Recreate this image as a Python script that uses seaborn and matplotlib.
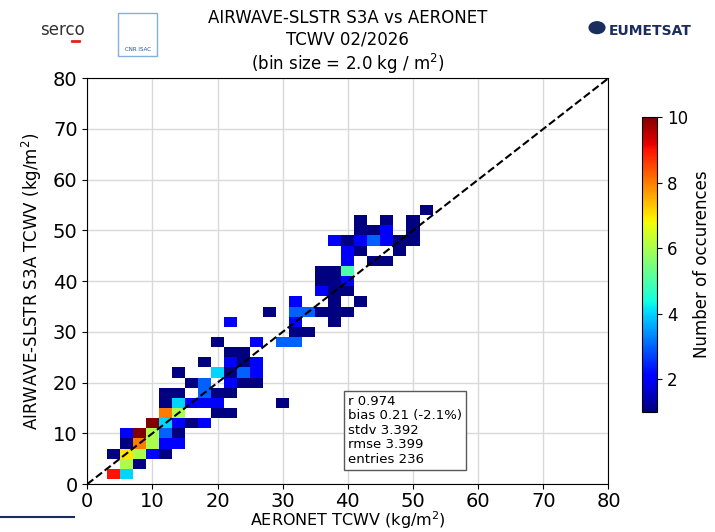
import numpy as np
import pandas as pd
import seaborn as sns
import matplotlib
import matplotlib.pyplot as plt
from matplotlib.lines import Line2D
from matplotlib.patches import Rectangle, Circle

# centres of the 2 kg/m2 bins (AERONET, AIRWAVE) and number of entries per bin
bin_x = [4, 6,
         6, 8,
         4, 6, 8, 10, 12,
         6, 8, 10, 12, 14,
         6, 8, 10, 12, 14,
         10, 12, 14, 16, 18,
         12, 14, 20, 22,
         12, 14, 16, 18, 20, 30,
         12, 14, 18, 20, 22,
         16, 18, 22, 24, 26,
         14, 20, 22, 24, 26,
         18, 22, 24, 26,
         22, 24,
         20, 26, 30, 32,
         32, 34,
         22, 32, 38,
         28, 32, 34, 36, 38, 40,
         32, 38, 42,
         36, 38, 40,
         36, 38, 40,
         36, 38, 40,
         40, 44, 46,
         40, 42, 48,
         38, 40, 42, 44, 46, 48, 50,
         42, 44, 46, 50,
         42, 46, 50,
         52]
bin_y = [2, 2,
         4, 4,
         6, 6, 6, 6, 6,
         8, 8, 8, 8, 8,
         10, 10, 10, 10, 10,
         12, 12, 12, 12, 12,
         14, 14, 14, 14,
         16, 16, 16, 16, 16, 16,
         18, 18, 18, 18, 18,
         20, 20, 20, 20, 20,
         22, 22, 22, 22, 22,
         24, 24, 24, 24,
         26, 26,
         28, 28, 28, 28,
         30, 30,
         32, 32, 32,
         34, 34, 34, 34, 34, 34,
         36, 36, 36,
         38, 38, 38,
         40, 40, 40,
         42, 42, 42,
         44, 44, 44,
         46, 46, 46,
         48, 48, 48, 48, 48, 48, 48,
         50, 50, 50, 50,
         52, 52, 52,
         54]
bin_count = [9, 4,
             6, 1,
             1, 7, 6, 2, 1,
             1, 8, 6, 2, 2,
             2, 10, 6, 3, 1,
             10, 4, 2, 1, 2,
             8, 6, 1, 1,
             1, 4, 2, 2, 2, 1,
             1, 1, 3, 1, 1,
             1, 3, 2, 1, 1,
             1, 4, 1, 3, 2,
             1, 2, 1, 2,
             1, 1,
             1, 2, 3, 3,
             1, 1,
             2, 2, 1,
             1, 3, 3, 1, 1, 1,
             2, 1, 1,
             2, 1, 1,
             1, 1, 2,
             1, 1, 5,
             2, 1, 1,
             2, 1, 1,
             2, 1, 2, 3, 2, 1, 1,
             1, 1, 2, 1,
             1, 1, 1,
             1]

stats_text = "r 0.974\nbias 0.21 (-2.1%)\nstdv 3.392\nrmse 3.399\nentries 236"

obs = pd.DataFrame({
    "aeronet": np.repeat(bin_x, bin_count),
    "airwave": np.repeat(bin_y, bin_count),
})

fig = plt.figure(figsize=(7.15, 5.32), dpi=100)
ax = fig.add_axes([0.122, 0.09, 0.729, 0.763])

jet = matplotlib.colormaps["jet"]
sns.histplot(data=obs, x="aeronet", y="airwave", binwidth=2, binrange=(-1, 81),
             cmap=jet, ax=ax)
mesh = ax.collections[0]
mesh.set_cmap(jet)
mesh.set_clim(1, 10)

ax.plot([0, 80], [0, 80], "k--", lw=1.5, zorder=5)
ax.set_xlim(0, 80)
ax.set_ylim(0, 80)
ax.set_xticks(range(0, 81, 10))
ax.set_yticks(range(0, 81, 10))
ax.tick_params(labelsize=14)
ax.tick_params(axis="x", pad=2)
ax.grid(True, color="0.85", lw=1)
ax.set_axisbelow(True)
ax.set_xlabel("AERONET TCWV (kg/m$^2$)", fontsize=11.5, labelpad=-1)
ax.set_ylabel("AIRWAVE-SLSTR S3A TCWV (kg/m$^2$)", fontsize=12, labelpad=6)
ax.set_title("AIRWAVE-SLSTR S3A vs AERONET\nTCWV 02/2026\n(bin size = 2.0 kg / m$^2$)",
             fontsize=12, pad=6)

ax.text(0.50, 0.045, stats_text, transform=ax.transAxes, fontsize=9.5,
        va="bottom", ha="left", linespacing=1.15, zorder=6,
        bbox=dict(boxstyle="square,pad=0.3", fc="white", ec="0.35", lw=1))

cax = fig.add_axes([0.898, 0.226, 0.021, 0.554])
cb = fig.colorbar(mesh, cax=cax, ticks=[2, 4, 6, 8, 10])
cb.ax.tick_params(labelsize=12)
cb.set_label("Number of occurences", fontsize=12)

# header logos (simplified)
fig.text(0.056, 0.935, "serco", fontsize=12, color="#333333")
fig.add_artist(Line2D([0.100, 0.110], [0.922, 0.922], color="#e2231a", lw=2))
fig.add_artist(Rectangle((0.165, 0.895), 0.055, 0.08, fill=False, ec="#7fb2dd", lw=1))
fig.text(0.1925, 0.905, "CNR ISAC", fontsize=4, ha="center", color="#1f4e96")
fig.add_artist(Circle((0.835, 0.948), 0.011, color="#1b2d5e"))
fig.text(0.852, 0.935, "EUMETSAT", fontsize=10, weight="bold", color="#1b2d5e")
fig.add_artist(Line2D([0.0, 0.103], [0.028, 0.028], color="#1b2d5e", lw=1.5))

fig.savefig("out.png", dpi=100)
